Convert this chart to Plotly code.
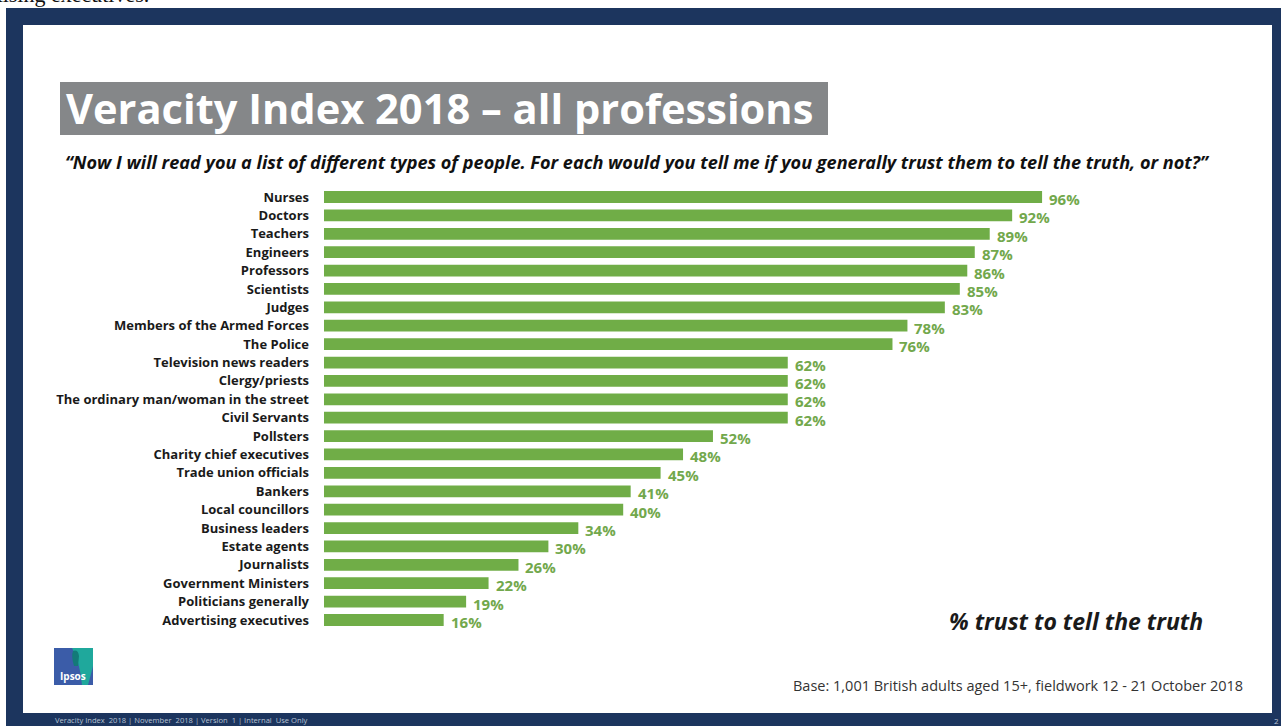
import plotly.graph_objects as go

W, H = 1281, 726

professions = [
    "Nurses", "Doctors", "Teachers", "Engineers", "Professors", "Scientists",
    "Judges", "Members of the Armed Forces", "The Police", "Television news readers",
    "Clergy/priests", "The ordinary man/woman in the street", "Civil Servants",
    "Pollsters", "Charity chief executives", "Trade union officials", "Bankers",
    "Local councillors", "Business leaders", "Estate agents", "Journalists",
    "Government Ministers", "Politicians generally", "Advertising executives",
]
trust_pct = [96, 92, 89, 87, 86, 85, 83, 78, 76, 62, 62, 62, 62, 52, 48, 45, 41,
             40, 34, 30, 26, 22, 19, 16]

title_text = "Veracity Index 2018 – all professions"
subtitle_text = ("“Now I will read you a list of different types of people. For each would you tell me "
                 "if you generally trust them to tell the truth, or not?”")
axis_note = "% trust to tell the truth"
base_note = "Base: 1,001 British adults aged 15+, fieldwork 12 - 21 October 2018"
footer_note = "Veracity Index  2018 | November  2018 | Version  1 | Internal  Use Only"

NAVY = "#1c355e"
GREEN = "#70ad47"
LABEL_GREEN = "#72a84c"


def px(x):
    return x / W


def py(y):
    return 1 - y / H


fig = go.Figure()
fig.add_trace(go.Bar(
    x=trust_pct, y=professions, orientation="h",
    marker=dict(color=GREEN, line=dict(width=0)),
    width=0.64, hoverinfo="x+y",
))

annotations = []
for p, v in zip(professions, trust_pct):
    annotations.append(dict(
        x=v, y=p, xref="x", yref="y", text=f"{v}%", showarrow=False,
        xanchor="left", yanchor="middle", xshift=5, yshift=-2,
        font=dict(family="Open Sans", size=15, color=LABEL_GREEN, weight="bold"),
    ))

# Title
annotations.append(dict(
    x=px(64), y=py(108), xref="paper", yref="paper", text=title_text, showarrow=False,
    xanchor="left", yanchor="middle",
    font=dict(family="Open Sans", size=41.6, color="white", weight="bold"),
))
# Subtitle
annotations.append(dict(
    x=px(63), y=py(162), xref="paper", yref="paper", text=f"<i>{subtitle_text}</i>",
    showarrow=False, xanchor="left", yanchor="middle",
    font=dict(family="Open Sans", size=18.1, color="#111111", weight="bold"),
))
# % trust note
annotations.append(dict(
    x=px(1205), y=py(621), xref="paper", yref="paper", text=f"<i>{axis_note}</i>",
    showarrow=False, xanchor="right", yanchor="middle",
    font=dict(family="Open Sans", size=23, color="#1a1a1a", weight="bold"),
))
# Base note
annotations.append(dict(
    x=px(1245), y=py(685), xref="paper", yref="paper", text=base_note,
    showarrow=False, xanchor="right", yanchor="middle",
    font=dict(family="Open Sans", size=14.5, color="#333333"),
))
# Footer
annotations.append(dict(
    x=px(53), y=py(720), xref="paper", yref="paper", text=footer_note,
    showarrow=False, xanchor="left", yanchor="middle",
    font=dict(family="Open Sans", size=7.6, color="#b9c3d3"),
))
annotations.append(dict(
    x=px(1276), y=py(720), xref="paper", yref="paper", text="2",
    showarrow=False, xanchor="center", yanchor="middle",
    font=dict(family="Open Sans", size=8, color="#b9c3d3"),
))
# Cut-off text at very top (partially visible in the reference)
annotations.append(dict(
    x=px(-14), y=py(9), xref="paper", yref="paper", text="Rising executives.",
    showarrow=False, xanchor="left", yanchor="bottom",
    font=dict(family="Liberation Serif", size=22, color="#111111"),
))
# Logo text
annotations.append(dict(
    x=px(73), y=py(676), xref="paper", yref="paper", text="Ipsos",
    showarrow=False, xanchor="center", yanchor="middle",
    font=dict(family="Open Sans", size=10, color="white", weight="bold"),
))

shapes = [
    dict(type="rect", xref="paper", yref="paper", x0=px(6), x1=px(1281), y0=py(726), y1=py(8),
         fillcolor=NAVY, line=dict(width=0), layer="below"),
    dict(type="rect", xref="paper", yref="paper", x0=px(23), x1=px(1272), y0=py(713), y1=py(25),
         fillcolor="white", line=dict(width=0), layer="below"),
    dict(type="rect", xref="paper", yref="paper", x0=px(60), x1=px(828), y0=py(135), y1=py(82),
         fillcolor="#858789", line=dict(width=0), layer="below"),
    dict(type="rect", xref="paper", yref="paper", x0=px(54), x1=px(93), y0=py(685), y1=py(648),
         fillcolor="#3b5ca8", line=dict(width=0), layer="below"),
    dict(type="path", xref="paper", yref="paper",
         path=(f"M {px(72)},{py(648)} L {px(93)},{py(648)} L {px(93)},{py(666)} "
               f"Q {px(90)},{py(678)} {px(88)},{py(685)} L {px(82)},{py(685)} "
               f"Q {px(80)},{py(662)} {px(72)},{py(648)} Z"),
         fillcolor="#1fa89c", line=dict(width=0), layer="below"),
    dict(type="path", xref="paper", yref="paper",
         path=(f"M {px(73)},{py(651)} Q {px(78)},{py(649)} {px(79)},{py(656)} "
               f"L {px(78)},{py(666)} L {px(74)},{py(666)} Q {px(71)},{py(656)} {px(73)},{py(651)} Z"),
         fillcolor="#137a78", line=dict(width=0), layer="below"),
]

fig.update_layout(
    width=W, height=H,
    margin=dict(l=0, r=0, t=0, b=0),
    paper_bgcolor="white", plot_bgcolor="rgba(0,0,0,0)",
    showlegend=False,
    bargap=0.36,
    xaxis=dict(domain=[px(324), px(1072)], range=[0, 100], visible=False, fixedrange=True),
    yaxis=dict(domain=[py(629.2), py(187.8)], range=[23.5, -0.5], type="category",
               showgrid=False, zeroline=False, showline=False, ticks="",
               ticklabelstandoff=14, fixedrange=True,
               tickfont=dict(family="Open Sans", size=13, color="#1a1a1a", weight="bold")),
    annotations=annotations,
    shapes=shapes,
)

fig.write_html("out.html")
